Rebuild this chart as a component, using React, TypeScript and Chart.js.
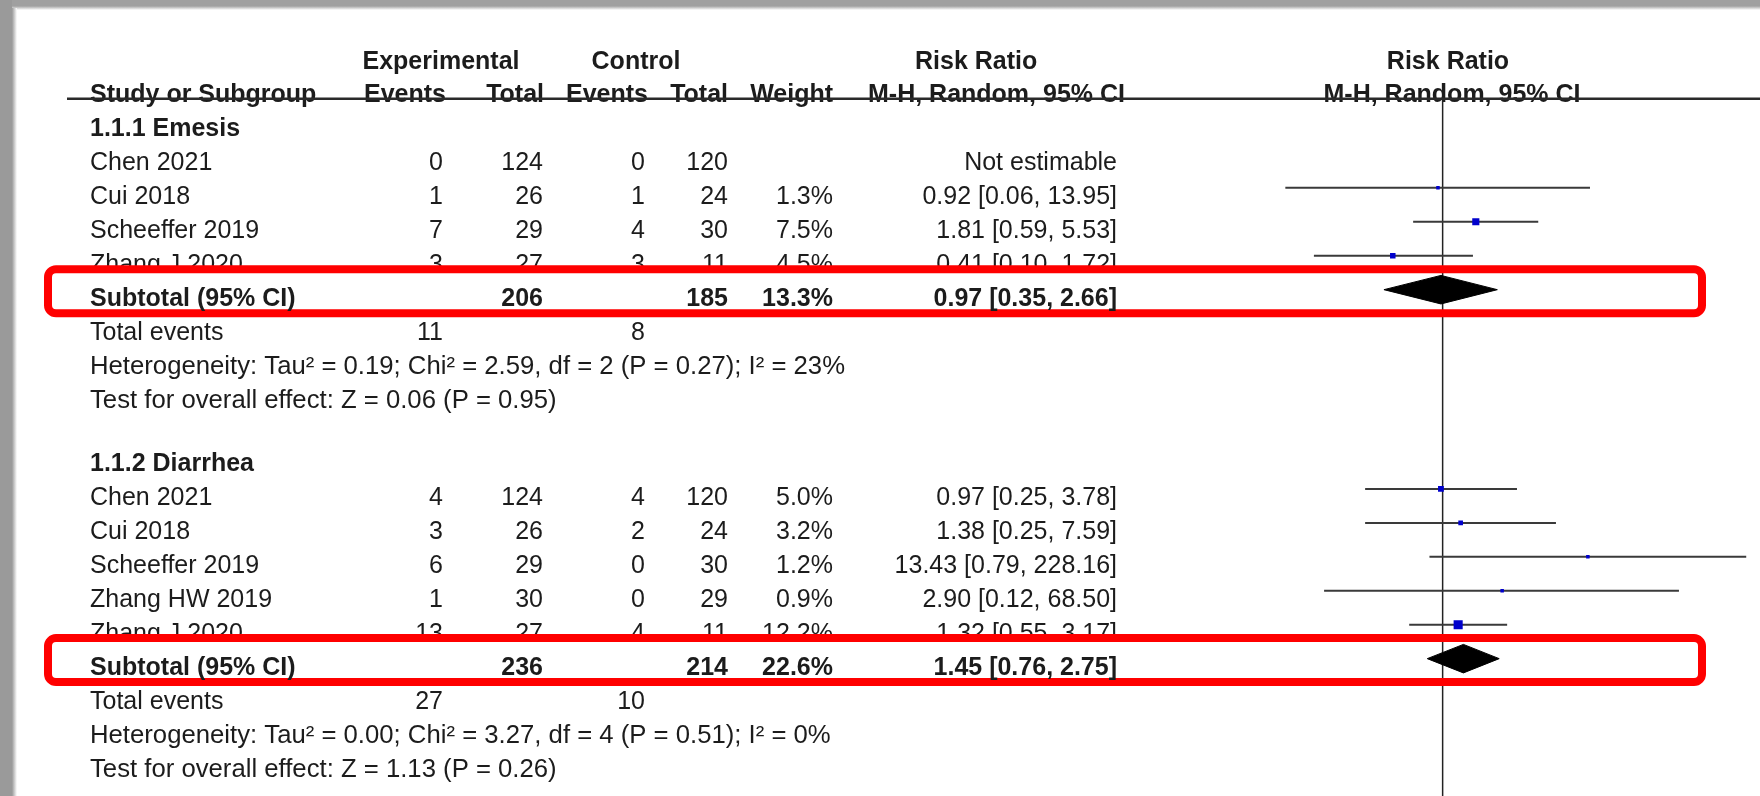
import React, { useEffect, useRef } from 'react';
import { Chart, registerables } from 'chart.js';

Chart.register(...registerables);

// ---------------- DATA ----------------
const headerTop = ['Experimental', 'Control', 'Risk Ratio', 'Risk Ratio'];
const headerCols = ['Study or Subgroup', 'Events', 'Total', 'Events', 'Total', 'Weight', 'M-H, Random, 95% CI', 'M-H, Random, 95% CI'];

const g1Title = '1.1.1 Emesis';
const g1Studies = ['Chen 2021', 'Cui 2018', 'Scheeffer 2019', 'Zhang J 2020'];
const g1ExpEvents = [0, 1, 7, 3];
const g1ExpTotal = [124, 26, 29, 27];
const g1CtrlEvents = [0, 1, 4, 3];
const g1CtrlTotal = [120, 24, 30, 11];
const g1Weight: (number | null)[] = [null, 1.3, 7.5, 4.5];
const g1RR: (number | null)[] = [null, 0.92, 1.81, 0.41];
const g1Lo: (number | null)[] = [null, 0.06, 0.59, 0.1];
const g1Hi: (number | null)[] = [null, 13.95, 5.53, 1.72];
const g1Sub = { expTotal: 206, ctrlTotal: 185, weight: 13.3, rr: 0.97, lo: 0.35, hi: 2.66, expEvents: 11, ctrlEvents: 8 };
const g1Het = 'Heterogeneity: Tau² = 0.19; Chi² = 2.59, df = 2 (P = 0.27); I² = 23%';
const g1Test = 'Test for overall effect: Z = 0.06 (P = 0.95)';

const g2Title = '1.1.2 Diarrhea';
const g2Studies = ['Chen 2021', 'Cui 2018', 'Scheeffer 2019', 'Zhang HW 2019', 'Zhang J 2020'];
const g2ExpEvents = [4, 3, 6, 1, 13];
const g2ExpTotal = [124, 26, 29, 30, 27];
const g2CtrlEvents = [4, 2, 0, 0, 4];
const g2CtrlTotal = [120, 24, 30, 29, 11];
const g2Weight: (number | null)[] = [5.0, 3.2, 1.2, 0.9, 12.2];
const g2RR: (number | null)[] = [0.97, 1.38, 13.43, 2.9, 1.32];
const g2Lo: (number | null)[] = [0.25, 0.25, 0.79, 0.12, 0.55];
const g2Hi: (number | null)[] = [3.78, 7.59, 228.16, 68.5, 3.17];
const g2Sub = { expTotal: 236, ctrlTotal: 214, weight: 22.6, rr: 1.45, lo: 0.76, hi: 2.75, expEvents: 27, ctrlEvents: 10 };
const g2Het = 'Heterogeneity: Tau² = 0.00; Chi² = 3.27, df = 4 (P = 0.51); I² = 0%';
const g2Test = 'Test for overall effect: Z = 1.13 (P = 0.26)';

// ---------------- LAYOUT ----------------
const W = 1760;
const H = 796;
const ROW0 = 54; // px of row 0 text centre
const PITCH = 34.5;
const GROUP_START = [2, 11.87];
const MARK_OFF = -0.22;
const DIAMOND_HALF = 0.42;
const PLOT_LEFT = 1100;
const NULL_PX = 1446;
const PX_PER_DECADE = 130;
const FONT = '"Liberation Sans", Arial, Helvetica, sans-serif';
const FS = 25;
const TEXT = '#1c1c1c';
const NOTE_STRETCH = 1.028;

const COL = {
  name: 90,
  expEv: 443,
  expTot: 543,
  ctrlEv: 645,
  ctrlTot: 728,
  weight: 833,
  rr: 1117,
};

type Group = {
  title: string; studies: string[]; expEvents: number[]; expTotal: number[];
  ctrlEvents: number[]; ctrlTotal: number[]; weight: (number | null)[];
  rr: (number | null)[]; lo: (number | null)[]; hi: (number | null)[];
  sub: typeof g1Sub; het: string; test: string; start: number;
};

const groups: Group[] = [
  { title: g1Title, studies: g1Studies, expEvents: g1ExpEvents, expTotal: g1ExpTotal, ctrlEvents: g1CtrlEvents, ctrlTotal: g1CtrlTotal, weight: g1Weight, rr: g1RR, lo: g1Lo, hi: g1Hi, sub: g1Sub, het: g1Het, test: g1Test, start: GROUP_START[0] },
  { title: g2Title, studies: g2Studies, expEvents: g2ExpEvents, expTotal: g2ExpTotal, ctrlEvents: g2CtrlEvents, ctrlTotal: g2CtrlTotal, weight: g2Weight, rr: g2RR, lo: g2Lo, hi: g2Hi, sub: g2Sub, het: g2Het, test: g2Test, start: GROUP_START[1] },
];

const ciText = (rr: number, lo: number, hi: number) => `${rr.toFixed(2)} [${lo.toFixed(2)}, ${hi.toFixed(2)}]`;

function text(ctx: CanvasRenderingContext2D, s: string, x: number, yc: number, align: CanvasTextAlign, bold = false, stretch = 1) {
  ctx.save();
  ctx.font = `${bold ? 'bold ' : ''}${FS}px ${FONT}`;
  ctx.textAlign = align;
  ctx.textBaseline = 'alphabetic';
  ctx.fillStyle = TEXT;
  ctx.translate(x, 0);
  ctx.scale(stretch, 1);
  ctx.fillText(s, 0, yc + FS * 0.358);
  ctx.restore();
}

const forestPlugin = {
  id: 'forestTable',
  beforeDraw(chart: any) {
    const ctx: CanvasRenderingContext2D = chart.ctx;
    ctx.save();
    ctx.fillStyle = '#ffffff';
    ctx.fillRect(0, 0, W, H);
    const g1 = ctx.createLinearGradient(0, 6, 0, 10);
    g1.addColorStop(0, '#a0a0a0');
    g1.addColorStop(1, '#ffffff');
    ctx.fillStyle = '#a0a0a0';
    ctx.fillRect(0, 0, W, 6);
    ctx.fillStyle = g1;
    ctx.fillRect(0, 6, W, 4);
    const g2 = ctx.createLinearGradient(12, 0, 17, 0);
    g2.addColorStop(0, '#9a9a9a');
    g2.addColorStop(1, '#ffffff');
    ctx.fillStyle = '#9a9a9a';
    ctx.fillRect(0, 0, 12, H);
    ctx.fillStyle = g2;
    ctx.fillRect(12, 8, 5, H);
    ctx.restore();
  },
  beforeDatasetsDraw(chart: any) {
    const ctx: CanvasRenderingContext2D = chart.ctx;
    const ys = chart.scales.y;
    const xs = chart.scales.x;
    const py = (r: number) => ys.getPixelForValue(r);
    ctx.save();

    // header rows
    const r0 = py(0);
    text(ctx, headerTop[0], 441, r0, 'center', true);
    text(ctx, headerTop[1], 636, r0, 'center', true);
    text(ctx, headerTop[2], 915, r0, 'left', true);
    text(ctx, headerTop[3], 1448, r0, 'center', true);
    const r1 = py(1);
    text(ctx, headerCols[0], COL.name, r1, 'left', true);
    text(ctx, headerCols[1], 446, r1, 'right', true);
    text(ctx, headerCols[2], 544, r1, 'right', true);
    text(ctx, headerCols[3], 648, r1, 'right', true);
    text(ctx, headerCols[4], 728, r1, 'right', true);
    text(ctx, headerCols[5], 833, r1, 'right', true);
    text(ctx, headerCols[6], 868, r1, 'left', true);
    text(ctx, headerCols[7], 1452, r1, 'center', true);

    // header rule
    ctx.fillStyle = '#2a2a2a';
    ctx.fillRect(67, 97.5, W - 67, 2.5);

    // rows
    groups.forEach((g) => {
      text(ctx, g.title, COL.name, py(g.start), 'left', true);
      g.studies.forEach((s, i) => {
        const yc = py(g.start + 1 + i);
        text(ctx, s, COL.name, yc, 'left');
        text(ctx, String(g.expEvents[i]), COL.expEv, yc, 'right');
        text(ctx, String(g.expTotal[i]), COL.expTot, yc, 'right');
        text(ctx, String(g.ctrlEvents[i]), COL.ctrlEv, yc, 'right');
        text(ctx, String(g.ctrlTotal[i]), COL.ctrlTot, yc, 'right');
        const w = g.weight[i];
        if (w != null) text(ctx, `${w.toFixed(1)}%`, COL.weight, yc, 'right');
        const rr = g.rr[i], lo = g.lo[i], hi = g.hi[i];
        text(ctx, rr != null && lo != null && hi != null ? ciText(rr, lo, hi) : 'Not estimable', COL.rr, yc, 'right');
      });
      const n = g.studies.length;
      const te = py(g.start + n + 2);
      text(ctx, 'Total events', COL.name, te, 'left');
      text(ctx, String(g.sub.expEvents), COL.expEv, te, 'right');
      text(ctx, String(g.sub.ctrlEvents), COL.ctrlEv, te, 'right');
      text(ctx, g.het, COL.name, py(g.start + n + 3), 'left', false, NOTE_STRETCH);
      text(ctx, g.test, COL.name, py(g.start + n + 4), 'left', false, NOTE_STRETCH);
    });

    // highlight boxes: white fill first
    const boxes = groups.map((g) => py(g.start + g.studies.length + 1) - 6);
    ctx.fillStyle = '#ffffff';
    boxes.forEach((cy) => {
      ctx.beginPath();
      (ctx as any).roundRect(48, cy - 22, 1654, 44, 8);
      ctx.fill();
    });

    // line of no effect
    const x1 = xs.getPixelForValue(1);
    ctx.strokeStyle = '#222';
    ctx.lineWidth = 1.5;
    ctx.beginPath();
    ctx.moveTo(x1, 100);
    ctx.lineTo(x1, H);
    ctx.stroke();

    // red outline
    ctx.strokeStyle = '#ff0000';
    ctx.lineWidth = 8;
    boxes.forEach((cy) => {
      ctx.beginPath();
      (ctx as any).roundRect(48, cy - 22, 1654, 44, 8);
      ctx.stroke();
    });

    // subtotal rows
    groups.forEach((g) => {
      const yc = py(g.start + g.studies.length + 1);
      text(ctx, 'Subtotal (95% CI)', COL.name, yc, 'left', true);
      text(ctx, String(g.sub.expTotal), COL.expTot, yc, 'right', true);
      text(ctx, String(g.sub.ctrlTotal), COL.ctrlTot, yc, 'right', true);
      text(ctx, `${g.sub.weight.toFixed(1)}%`, COL.weight, yc, 'right', true);
      text(ctx, ciText(g.sub.rr, g.sub.lo, g.sub.hi), COL.rr, yc, 'right', true);
    });
    ctx.restore();
  },
};

function buildDatasets() {
  const markers: { x: number; y: number }[] = [];
  const radii: number[] = [];
  const lines: any[] = [];
  const diamonds: any[] = [];
  groups.forEach((g) => {
    g.studies.forEach((_, i) => {
      const rr = g.rr[i], lo = g.lo[i], hi = g.hi[i], w = g.weight[i];
      if (rr == null || lo == null || hi == null || w == null) return;
      const y = g.start + 1 + i + MARK_OFF;
      markers.push({ x: rr, y });
      const side = Math.max(3.5, 2.6 * Math.sqrt(w));
      radii.push(side / Math.SQRT2);
      lines.push({
        type: 'scatter',
        data: [{ x: lo, y }, { x: hi, y }],
        showLine: true,
        borderColor: '#3a3a3a',
        borderWidth: 2,
        pointRadius: 0,
        fill: false,
      });
    });
    const y = g.start + g.studies.length + 1 + MARK_OFF;
    diamonds.push({
      type: 'scatter',
      data: [
        { x: g.sub.lo, y },
        { x: g.sub.rr, y: y - DIAMOND_HALF },
        { x: g.sub.hi, y },
        { x: g.sub.rr, y: y + DIAMOND_HALF },
        { x: g.sub.lo, y },
      ],
      showLine: true,
      borderColor: '#000000',
      borderWidth: 1,
      backgroundColor: '#000000',
      fill: 'shape',
      pointRadius: 0,
      tension: 0,
    });
  });
  return [
    {
      type: 'scatter',
      data: markers,
      pointStyle: 'rect',
      pointRadius: radii,
      pointBackgroundColor: '#0000cc',
      pointBorderWidth: 0,
      showLine: false,
    },
    ...lines,
    ...diamonds,
  ];
}

export default function App() {
  const ref = useRef<HTMLCanvasElement | null>(null);
  useEffect(() => {
    if (!ref.current) return;
    const xmin = Math.pow(10, (PLOT_LEFT - NULL_PX) / PX_PER_DECADE);
    const xmax = Math.pow(10, (W - NULL_PX) / PX_PER_DECADE);
    const chart = new Chart(ref.current, {
      type: 'scatter',
      data: { datasets: buildDatasets() as any },
      options: {
        animation: false,
        responsive: false,
        events: [],
        layout: { padding: { left: PLOT_LEFT, right: 0, top: 0, bottom: 0 } },
        plugins: { legend: { display: false }, tooltip: { enabled: false } },
        scales: {
          x: { type: 'logarithmic', min: xmin, max: xmax, display: false },
          y: { type: 'linear', min: -ROW0 / PITCH, max: (H - ROW0) / PITCH, reverse: true, display: false },
        },
      },
      plugins: [forestPlugin],
    });
    return () => chart.destroy();
  }, []);
  return (
    <div style={{ position: 'fixed', left: 0, top: 0, width: W, height: H, background: '#fff' }}>
      <canvas ref={ref} width={W} height={H} style={{ display: 'block', width: W, height: H }} />
    </div>
  );
}
